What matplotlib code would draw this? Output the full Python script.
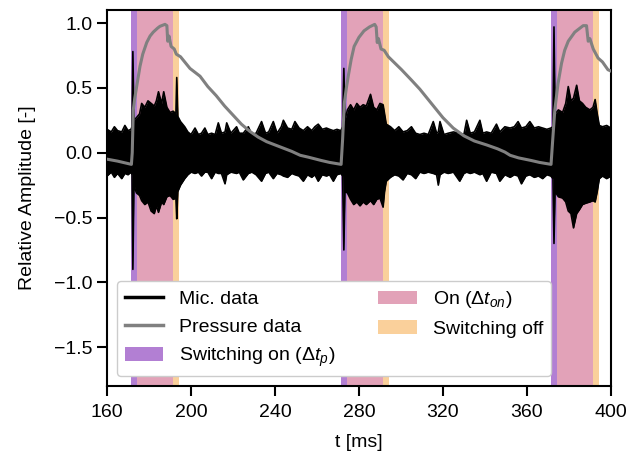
import matplotlib
matplotlib.use("Agg")
import matplotlib.pyplot as plt

plt.rcParams["font.family"] = ["Liberation Sans", "DejaVu Sans"]
plt.rcParams["mathtext.fontset"] = "custom"
plt.rcParams["mathtext.rm"] = "Liberation Sans"
plt.rcParams["mathtext.it"] = "Liberation Sans:italic"
plt.rcParams["font.size"] = 14

# Microphone signal: envelope (upper / lower edge)
mic_t = [
    160, 162, 163.5, 165, 167, 168.5, 170, 171.4,
    171.9, 172.3, 172.8, 174, 175.5, 176.5, 178, 179.5, 181, 182.5, 183.5,
    184.5, 186, 187, 188.5, 190, 191.5, 192.8, 193.2, 193.7, 195, 197,
    198.5, 200, 201.9, 203.5, 205, 206.6, 208, 209.8, 211.5, 213, 214.5,
    216.2, 217, 219, 221.7, 223, 224.9, 227.3, 229, 231, 233.6, 235.5, 237,
    239.2, 241, 243, 244, 246, 248, 249.5, 251.5, 253.5, 255.5, 257.5, 259,
    260.6, 262.5, 264.5, 266, 267.8, 269.5, 271.4,
    272.2, 272.8, 273.3, 274.5, 276, 277.5, 279, 280.5, 282, 283.5, 285.5,
    287, 288.5, 290, 291.5, 292.2, 293, 295,
    297, 299, 301, 303, 305, 307, 309, 311, 313, 315.4, 317, 317.8, 318.6,
    320.5, 322.5, 325, 328, 330, 331.3, 333, 335, 337.6, 339, 340.8, 343,
    345.5, 347.1, 349.5, 352, 354, 355.8, 357.4, 359.5, 361.4, 363.5, 365.5,
    367.5, 369.5, 371.4,
    372.4, 372.9, 373.4, 375, 377, 378.5, 379.7, 381, 382.2, 383.7, 385,
    386.5, 388, 390, 391.5, 392.5, 393.5, 394.5, 396, 398, 400,
]
mic_hi = [
    0.18, 0.16, 0.20, 0.17, 0.16, 0.21, 0.17, 0.18,
    0.20, 0.78, 0.25, 0.27, 0.30, 0.38, 0.35, 0.40, 0.38, 0.36, 0.40,
    0.47, 0.38, 0.47, 0.35, 0.31, 0.32, 0.30, 0.58, 0.28, 0.24, 0.20,
    0.16, 0.14, 0.19, 0.14, 0.15, 0.19, 0.14, 0.15, 0.14, 0.23, 0.15,
    0.16, 0.23, 0.15, 0.20, 0.15, 0.15, 0.20, 0.14, 0.15, 0.24, 0.15, 0.16,
    0.24, 0.15, 0.20, 0.25, 0.19, 0.18, 0.24, 0.19, 0.17, 0.20, 0.17, 0.20,
    0.22, 0.18, 0.19, 0.18, 0.17, 0.18, 0.17,
    0.20, 0.65, 0.25, 0.33, 0.37, 0.33, 0.38, 0.35, 0.37, 0.36, 0.45,
    0.35, 0.33, 0.38, 0.37, 0.30, 0.22, 0.20,
    0.17, 0.20, 0.16, 0.17, 0.20, 0.15, 0.14, 0.15, 0.14, 0.24, 0.15, 0.16, 0.24,
    0.14, 0.15, 0.16, 0.15, 0.14, 0.25, 0.15, 0.16, 0.25, 0.15, 0.16, 0.15,
    0.22, 0.16, 0.20, 0.19, 0.20, 0.24, 0.19, 0.20, 0.24, 0.19, 0.20,
    0.19, 0.18, 0.19,
    0.20, 0.97, 0.30, 0.33, 0.31, 0.38, 0.51, 0.40, 0.42, 0.52, 0.40,
    0.38, 0.35, 0.33, 0.35, 0.41, 0.30, 0.21, 0.20, 0.21, 0.19,
]
mic_lo = [
    -0.18, -0.15, -0.19, -0.16, -0.20, -0.16, -0.17, -0.15,
    -0.17, -0.90, -0.25, -0.31, -0.33, -0.37, -0.40, -0.38, -0.45, -0.47, -0.41,
    -0.46, -0.38, -0.40, -0.34, -0.33, -0.36, -0.35, -0.51, -0.30, -0.25, -0.20,
    -0.17, -0.15, -0.16, -0.15, -0.18, -0.15, -0.15, -0.20, -0.15, -0.16, -0.16,
    -0.24, -0.17, -0.15, -0.16, -0.15, -0.21, -0.16, -0.15, -0.17, -0.22, -0.16, -0.15,
    -0.20, -0.16, -0.17, -0.18, -0.19, -0.16, -0.17, -0.18, -0.22, -0.17, -0.19, -0.17,
    -0.22, -0.17, -0.18, -0.17, -0.22, -0.17, -0.16,
    -0.18, -0.75, -0.30, -0.31, -0.36, -0.40, -0.38, -0.41, -0.38, -0.40, -0.37,
    -0.40, -0.36, -0.35, -0.42, -0.30, -0.22, -0.19,
    -0.17, -0.18, -0.21, -0.16, -0.17, -0.20, -0.15, -0.16, -0.15, -0.16, -0.17, -0.25, -0.17,
    -0.15, -0.16, -0.15, -0.22, -0.16, -0.15, -0.16, -0.15, -0.17, -0.16, -0.22, -0.15,
    -0.16, -0.22, -0.17, -0.19, -0.17, -0.18, -0.24, -0.18, -0.17, -0.19, -0.18,
    -0.20, -0.17, -0.18,
    -0.20, -0.70, -0.30, -0.34, -0.35, -0.38, -0.45, -0.47, -0.58, -0.47, -0.44,
    -0.40, -0.39, -0.38, -0.37, -0.38, -0.30, -0.20, -0.18, -0.20, -0.18,
]

# Pressure signal
p_t = [
    160, 165, 171.6, 172.0, 172.5, 173.2, 174, 175.7, 177, 178.9, 180.5, 182,
    184, 185.2, 187.6, 188.5, 188.9, 189.5, 190.5, 192, 193, 195, 199.5, 204.3,
    208, 212, 216, 220, 224, 228, 232, 236, 240, 244, 248, 252, 256, 262, 266,
    271.5,
    272.2, 273, 274, 275, 276.3, 277.7, 280, 282.4, 285, 287.5, 288.2, 288.7,
    289.3, 290.5, 292, 294, 300.3, 305, 309, 312, 316, 320, 324.9, 330, 335,
    340.8, 346, 349.5, 352, 356, 362, 366, 371.5,
    372.3, 373.3, 374.8, 376.5, 378, 379.7, 382.8, 386.8, 388.4, 389.2, 390,
    391.6, 393.9, 396, 398.6, 400,
]
p_val = [
    -0.05, -0.065, -0.09, 0.0, 0.33, 0.42, 0.50, 0.667, 0.76, 0.85, 0.90, 0.93,
    0.96, 0.975, 0.99, 0.98, 0.86, 0.90, 0.82, 0.80, 0.76, 0.74, 0.65, 0.59,
    0.51, 0.44, 0.36, 0.29, 0.22, 0.165, 0.12, 0.085, 0.06, 0.035, 0.01, -0.02,
    -0.035, -0.06, -0.075, -0.09,
    0.10, 0.38, 0.50, 0.60, 0.72, 0.82, 0.89, 0.94, 0.97, 0.99, 0.97, 0.85,
    0.88, 0.80, 0.79, 0.74, 0.64, 0.56, 0.49, 0.43, 0.35, 0.27, 0.19, 0.13,
    0.09, 0.06, 0.03, 0.005, -0.02, -0.04, -0.06, -0.075, -0.09,
    0.10, 0.33, 0.53, 0.69, 0.79, 0.86, 0.93, 0.98, 0.98, 0.86, 0.88,
    0.80, 0.73, 0.70, 0.64, 0.63,
]

# switching phases per cycle [ms]
on_start = [171.5, 271.5, 371.5]
on_full = [174.2, 274.2, 374.2]
off_start = [191.4, 291.4, 391.4]
off_end = [194.3, 294.3, 394.3]

fig, ax = plt.subplots(figsize=(6.41, 4.59), dpi=100)
fig.subplots_adjust(left=0.167, right=0.953, top=0.978, bottom=0.159)

for i in range(len(on_start)):
    ax.axvspan(on_start[i], on_full[i], color="#b27fd3", lw=0,
               label=r"Switching on ($\Delta t_p$)" if i == 0 else None, zorder=1)
    ax.axvspan(on_full[i], off_start[i], color="#e2a2b8", lw=0,
               label=r"On ($\Delta t_{on}$)" if i == 0 else None, zorder=1)
    ax.axvspan(off_start[i], off_end[i], color="#fad09b", lw=0,
               label="Switching off" if i == 0 else None, zorder=1)

ax.fill_between(mic_t, mic_lo, mic_hi, color="black", lw=0, zorder=2)
ax.plot(mic_t, mic_hi, color="black", lw=1.2, zorder=2, label="Mic. data")
ax.plot(mic_t, mic_lo, color="black", lw=1.2, zorder=2)
ax.plot(p_t, p_val, color="gray", lw=2.2, zorder=3, label="Pressure data")

ax.set_xlim(160, 400)
ax.set_ylim(-1.8, 1.1)
ax.set_xticks(range(160, 401, 40))
ax.set_yticks([-1.5, -1.0, -0.5, 0.0, 0.5, 1.0])
ax.set_xlabel("t [ms]", labelpad=9)
ax.set_ylabel("Relative Amplitude [-]", labelpad=13)
for s in ax.spines.values():
    s.set_linewidth(1.5)
ax.tick_params(length=7, width=1.5)
ax.tick_params(axis="x", pad=6)

h, l = ax.get_legend_handles_labels()
order = [3, 4, 0, 1, 2]
leg = ax.legend([h[i] for i in order], [l[i] for i in order], ncol=2,
                loc="lower left", columnspacing=2.2, framealpha=1)
leg.get_lines()[0].set_linewidth(2.5)
leg.get_lines()[1].set_linewidth(2.5)

fig.savefig("out.png", dpi=100)
